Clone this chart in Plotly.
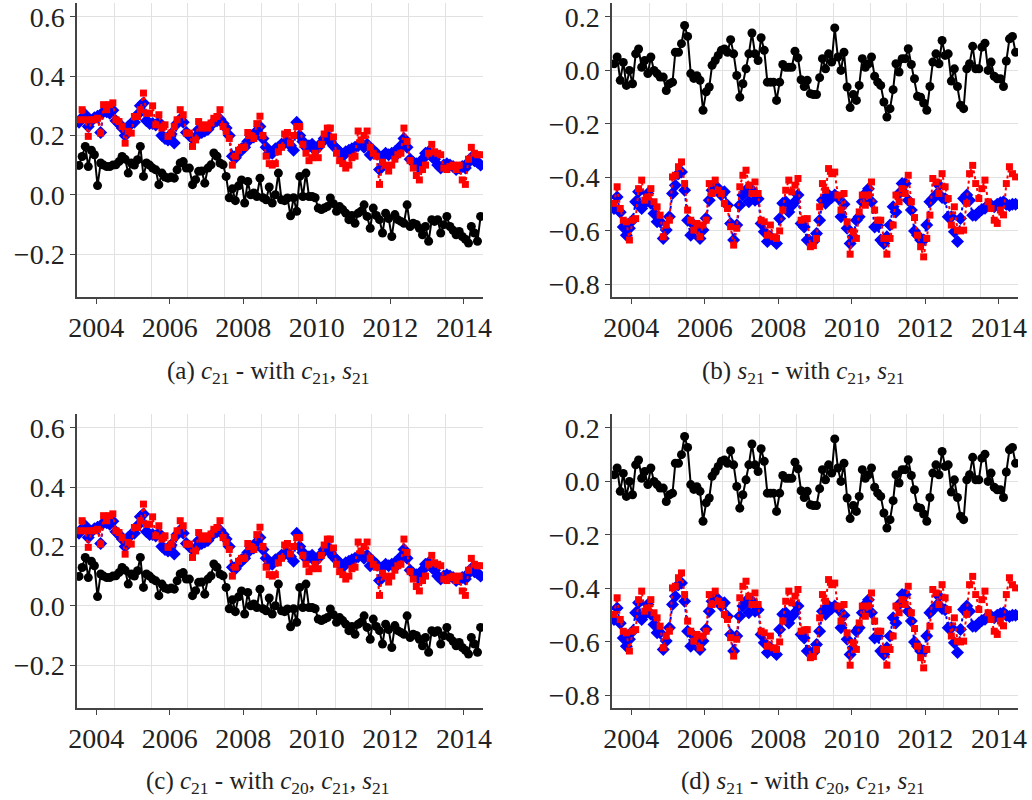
import pandas as pd
import plotly.graph_objects as go

# Monthly epochs, 2003-07 .. 2014-06 (mid-month)
MONTHS = pd.date_range("2003-07-01", "2014-06-01", freq="MS") + pd.Timedelta(days=14)

# ---- c21 panel (a) and (c): values ----
C21_BLACK = [
    0.099, 0.129, 0.163, 0.095, 0.150, 0.135,
    0.031, 0.107, 0.100, 0.095, 0.095, 0.100, 0.101, 0.112, 0.129, 0.120, 0.073, 0.107,
    0.100, 0.118, 0.163, 0.062, 0.107, 0.100, 0.090, 0.084, 0.034, 0.073, 0.060, 0.056,
    0.060, 0.056, 0.084, 0.107, 0.112, 0.090, 0.090, 0.034, 0.051, 0.079, 0.080, 0.039,
    0.090, 0.101, 0.141, 0.130, 0.107, 0.101, 0.062, -0.010, 0.020, -0.020, 0.030, 0.050,
    -0.028, 0.045, 0.000, 0.006, -0.006, 0.056, -0.010, -0.017, 0.026, -0.028, 0.000, 0.073,
    -0.017, -0.020, -0.011, -0.071, -0.010, -0.056, 0.062, -0.006, 0.073, -0.006, -0.006, -0.010,
    -0.045, -0.050, -0.045, -0.040, -0.011, -0.030, -0.056, -0.040, -0.050, -0.062, -0.084, -0.070,
    -0.096, -0.062, -0.056, -0.034, -0.073, -0.113, -0.045, -0.070, -0.084, -0.129, -0.062, -0.080,
    -0.141, -0.067, -0.084, -0.090, -0.096, -0.034, -0.107, -0.096, -0.100, -0.113, -0.135, -0.107,
    -0.157, -0.084, -0.090, -0.084, -0.129, -0.101, -0.073, -0.107, -0.120, -0.135, -0.124, -0.141,
    -0.150, -0.163, -0.107, -0.129, -0.157, -0.073,
]
C21_BLUE = [
    0.245, 0.260, 0.270, 0.230, 0.250, 0.260,
    0.265, 0.210, 0.280, 0.280, 0.275, 0.285, 0.250, 0.240, 0.225, 0.200, 0.230, 0.240,
    0.245, 0.270, 0.300, 0.310, 0.250, 0.240, 0.240, 0.235, 0.245, 0.200, 0.190, 0.185,
    0.205, 0.175, 0.240, 0.255, 0.245, 0.210, 0.200, 0.190, 0.195, 0.220, 0.210, 0.215,
    0.220, 0.235, 0.245, 0.250, 0.255, 0.240, 0.225, 0.200, 0.130, 0.125, 0.140, 0.155,
    0.160, 0.180, 0.200, 0.195, 0.215, 0.230, 0.190, 0.160, 0.140, 0.140, 0.155, 0.160,
    0.170, 0.175, 0.180, 0.165, 0.150, 0.245, 0.200, 0.180, 0.160, 0.165, 0.170, 0.150,
    0.160, 0.175, 0.190, 0.200, 0.180, 0.165, 0.155, 0.145, 0.130, 0.145, 0.150, 0.155,
    0.160, 0.165, 0.175, 0.160, 0.170, 0.135, 0.150, 0.140, 0.085, 0.130, 0.140, 0.135,
    0.140, 0.145, 0.140, 0.165, 0.190, 0.160, 0.120, 0.110, 0.105, 0.090, 0.120, 0.140,
    0.145, 0.130, 0.120, 0.100, 0.090, 0.100, 0.105, 0.100, 0.095, 0.085, 0.090, 0.095,
    0.090, 0.110, 0.125, 0.115, 0.110, 0.100,
]
C21_RED = [
    0.253, 0.287, 0.253, 0.197, 0.253, 0.253,
    0.258, 0.208, 0.304, 0.287, 0.304, 0.310, 0.253, 0.247, 0.230, 0.174, 0.214, 0.208,
    0.264, 0.264, 0.287, 0.343, 0.275, 0.275, 0.300, 0.236, 0.270, 0.225, 0.236, 0.197,
    0.208, 0.230, 0.253, 0.287, 0.270, 0.208, 0.208, 0.163, 0.185, 0.247, 0.225, 0.236,
    0.225, 0.242, 0.258, 0.264, 0.287, 0.230, 0.214, 0.190, 0.100, 0.130, 0.150, 0.160,
    0.160, 0.210, 0.200, 0.190, 0.240, 0.265, 0.200, 0.130, 0.105, 0.100, 0.105, 0.145,
    0.160, 0.205, 0.210, 0.175, 0.200, 0.230, 0.230, 0.170, 0.140, 0.115, 0.125, 0.140,
    0.125, 0.170, 0.205, 0.225, 0.225, 0.195, 0.140, 0.115, 0.105, 0.090, 0.100, 0.125,
    0.130, 0.215, 0.185, 0.200, 0.215, 0.160, 0.140, 0.130, 0.035, 0.110, 0.100, 0.080,
    0.100, 0.120, 0.135, 0.140, 0.225, 0.180, 0.115, 0.090, 0.065, 0.050, 0.085, 0.100,
    0.140, 0.170, 0.145, 0.140, 0.135, 0.090, 0.085, 0.095, 0.100, 0.085, 0.100, 0.050,
    0.035, 0.120, 0.160, 0.140, 0.135, 0.135,
]

# ---- s21 panel (b) and (d) ----
S21_BLACK = [
    0.025, 0.050, -0.037, 0.030, -0.056, 0.000,
    -0.050, 0.062, 0.080, 0.012, 0.037, -0.012, 0.050, 0.000, -0.012, -0.025, -0.025, -0.075,
    -0.050, -0.044, 0.068, 0.068, 0.100, 0.168, 0.127, -0.012, -0.030, -0.020, -0.037, -0.149,
    -0.080, -0.062, 0.019, 0.037, 0.056, 0.075, 0.080, 0.068, 0.115, 0.062, -0.019, -0.100,
    -0.050, 0.006, 0.062, 0.140, 0.062, 0.037, 0.122, 0.075, -0.044, -0.044, -0.044, -0.112,
    -0.044, 0.022, 0.012, 0.012, 0.012, 0.072, 0.047, -0.035, -0.060, -0.037, -0.087, -0.090,
    -0.090, -0.027, 0.044, 0.006, 0.062, 0.031, 0.159, 0.050, 0.000, 0.068, -0.062, -0.139,
    -0.090, -0.112, -0.056, 0.044, 0.012, 0.025, 0.050, -0.022, -0.044, -0.056, -0.118, -0.174,
    -0.143, -0.072, 0.025, -0.006, 0.044, 0.044, 0.081, 0.022, -0.031, -0.097, -0.100, -0.122,
    -0.149, -0.060, 0.031, 0.062, 0.025, 0.112, 0.056, 0.062, -0.040, 0.006, -0.060, -0.130,
    -0.143, 0.006, 0.025, 0.090, 0.006, 0.006, 0.087, 0.102, 0.000, 0.031, -0.022, -0.031,
    -0.031, -0.060, 0.035, 0.118, 0.127, 0.068,
]
S21_BLUE = [
    -0.516, -0.473, -0.530, -0.585, -0.616, -0.590,
    -0.560, -0.491, -0.454, -0.516, -0.497, -0.460, -0.497, -0.535, -0.566, -0.566, -0.628, -0.597,
    -0.547, -0.460, -0.429, -0.386, -0.380, -0.448, -0.560, -0.616, -0.578, -0.590, -0.628, -0.597,
    -0.553, -0.485, -0.448, -0.435, -0.441, -0.466, -0.454, -0.504, -0.572, -0.634, -0.578, -0.504,
    -0.466, -0.448, -0.491, -0.448, -0.485, -0.480, -0.572, -0.603, -0.640, -0.622, -0.635, -0.647,
    -0.554, -0.497, -0.491, -0.529, -0.505, -0.491, -0.466, -0.572, -0.585, -0.634, -0.640, -0.640,
    -0.610, -0.560, -0.485, -0.497, -0.466, -0.475, -0.466, -0.475, -0.547, -0.500, -0.590, -0.647,
    -0.622, -0.560, -0.547, -0.491, -0.460, -0.442, -0.491, -0.585, -0.580, -0.634, -0.647, -0.622,
    -0.578, -0.510, -0.529, -0.460, -0.423, -0.423, -0.485, -0.522, -0.600, -0.616, -0.634, -0.634,
    -0.578, -0.491, -0.480, -0.466, -0.429, -0.475, -0.480, -0.547, -0.547, -0.603, -0.640, -0.554,
    -0.479, -0.466, -0.485, -0.541, -0.541, -0.529, -0.520, -0.515, -0.504, -0.504, -0.510, -0.500,
    -0.495, -0.491, -0.500, -0.505, -0.500, -0.500,
]
S21_RED = [
    -0.497, -0.435, -0.516, -0.560, -0.566, -0.634,
    -0.560, -0.554, -0.442, -0.410, -0.485, -0.473, -0.442, -0.491, -0.510, -0.541, -0.622, -0.578,
    -0.560, -0.398, -0.392, -0.360, -0.342, -0.423, -0.522, -0.560, -0.597, -0.572, -0.622, -0.578,
    -0.560, -0.423, -0.460, -0.410, -0.448, -0.460, -0.497, -0.516, -0.584, -0.653, -0.590, -0.435,
    -0.392, -0.373, -0.429, -0.460, -0.417, -0.460, -0.560, -0.566, -0.616, -0.578, -0.622, -0.628,
    -0.600, -0.522, -0.448, -0.410, -0.454, -0.429, -0.404, -0.560, -0.555, -0.554, -0.659, -0.655,
    -0.628, -0.510, -0.423, -0.448, -0.367, -0.386, -0.380, -0.466, -0.522, -0.460, -0.566, -0.687,
    -0.603, -0.628, -0.529, -0.466, -0.504, -0.466, -0.417, -0.522, -0.560, -0.560, -0.628, -0.687,
    -0.628, -0.578, -0.466, -0.491, -0.442, -0.460, -0.392, -0.491, -0.550, -0.616, -0.659, -0.697,
    -0.628, -0.541, -0.404, -0.417, -0.460, -0.386, -0.435, -0.479, -0.578, -0.510, -0.597, -0.600,
    -0.597, -0.497, -0.386, -0.355, -0.423, -0.479, -0.442, -0.410, -0.491, -0.516, -0.560, -0.572,
    -0.522, -0.540, -0.423, -0.360, -0.386, -0.398,
]

# Panels (c) and (d) are visually identical to (a) and (b)
PANELS = [
    dict(ax="", black=C21_BLACK, blue=C21_BLUE, red=C21_RED),
    dict(ax="2", black=S21_BLACK, blue=S21_BLUE, red=S21_RED),
    dict(ax="3", black=C21_BLACK, blue=C21_BLUE, red=C21_RED),
    dict(ax="4", black=S21_BLACK, blue=S21_BLUE, red=S21_RED),
]
CAPTIONS = [
    "(a) <i>c</i><sub>21</sub> - with <i>c</i><sub>21</sub><i>, s</i><sub>21</sub>",
    "(b) <i>s</i><sub>21</sub> - with <i>c</i><sub>21</sub><i>, s</i><sub>21</sub>",
    "(c) <i>c</i><sub>21</sub> - with <i>c</i><sub>20</sub><i>, c</i><sub>21</sub><i>, s</i><sub>21</sub>",
    "(d) <i>s</i><sub>21</sub> - with <i>c</i><sub>20</sub><i>, c</i><sub>21</sub><i>, s</i><sub>21</sub>",
]
C21_TICKS = [-0.2, 0.0, 0.2, 0.4, 0.6]
S21_TICKS = [-0.8, -0.6, -0.4, -0.2, 0.0, 0.2]
YEAR_TICKS = ["2004-01-01", "2006-01-01", "2008-01-01", "2010-01-01", "2012-01-01", "2014-01-01"]

FONT = "Liberation Serif"
AXCOL = "#444444"
GRIDCOL = "#e1e1e1"

fig = go.Figure()
for p in PANELS:
    xa = "x" + p["ax"]
    ya = "y" + p["ax"]
    fig.add_trace(go.Scatter(x=MONTHS, y=p["black"], xaxis=xa, yaxis=ya, mode="lines+markers",
                             line=dict(color="black", width=2),
                             marker=dict(symbol="circle", size=9, color="black"), showlegend=False))
    fig.add_trace(go.Scatter(x=MONTHS, y=p["blue"], xaxis=xa, yaxis=ya, mode="lines+markers",
                             line=dict(color="#0000ff", width=2, dash="dot"),
                             marker=dict(symbol="diamond", size=10, color="#0000ff"), showlegend=False))
    fig.add_trace(go.Scatter(x=MONTHS, y=p["red"], xaxis=xa, yaxis=ya, mode="lines+markers",
                             line=dict(color="#ff0000", width=2, dash="dot"),
                             marker=dict(symbol="square", size=7, color="#ff0000"), showlegend=False))

xdom = [[77 / 1032, 483 / 1032], [612 / 1032, 1018 / 1032]]
ydom = [[1 - 297 / 800, 1 - 3 / 800], [1 - 708 / 800, 1 - 414 / 800]]

TICKFONT = dict(family=FONT, size=28, color="#222222")

common_x = dict(
    type="date", range=["2003-06-25", "2014-07-09"],
    tickvals=YEAR_TICKS, tickformat="%Y",
    showgrid=False, showline=True, linecolor=AXCOL, linewidth=1.5,
    ticks="outside", ticklen=5, tickcolor=AXCOL, tickwidth=1,
    tickfont=TICKFONT, automargin=False,
    minor=dict(tick0="2004-07-01", dtick="M12", showgrid=True, gridcolor=GRIDCOL, gridwidth=1, ticks=""),
    zeroline=False,
)
common_y = dict(
    showgrid=True, gridcolor=GRIDCOL, gridwidth=1,
    showline=True, linecolor=AXCOL, linewidth=1.5,
    ticks="outside", ticklen=5, tickcolor=AXCOL, tickwidth=1,
    tickfont=TICKFONT, ticksuffix="\u00a0",
    tickformat=".1f", zeroline=False,
)

layout = dict(width=1032, height=800, margin=dict(l=0, r=0, t=0, b=0, autoexpand=False),
              paper_bgcolor="white", plot_bgcolor="white", showlegend=False,
              font=dict(family=FONT, size=28, color="#222222"))
for k, (ci, ri) in enumerate([(0, 0), (1, 0), (0, 1), (1, 1)]):
    s = "" if k == 0 else str(k + 1)
    ticks = C21_TICKS if ci == 0 else S21_TICKS
    yr = [-0.345, 0.647] if ci == 0 else [-0.847, 0.252]
    layout["xaxis" + s] = dict(common_x, domain=xdom[ci], anchor="y" + s)
    layout["yaxis" + s] = dict(common_y, domain=ydom[ri], anchor="x" + s, range=yr, tickvals=ticks)
fig.update_layout(**layout)
fig.update_yaxes(tickfont=TICKFONT)

cap_pos = [(268, 372), (803, 372), (268, 782), (803, 782)]
for text, (cx, cy) in zip(CAPTIONS, cap_pos):
    fig.add_annotation(text=text, xref="paper", yref="paper", x=cx / 1032, y=1 - cy / 800,
                       xanchor="center", yanchor="middle", showarrow=False,
                       font=dict(family=FONT, size=25, color="#222222"))

fig.write_html("out.html")
